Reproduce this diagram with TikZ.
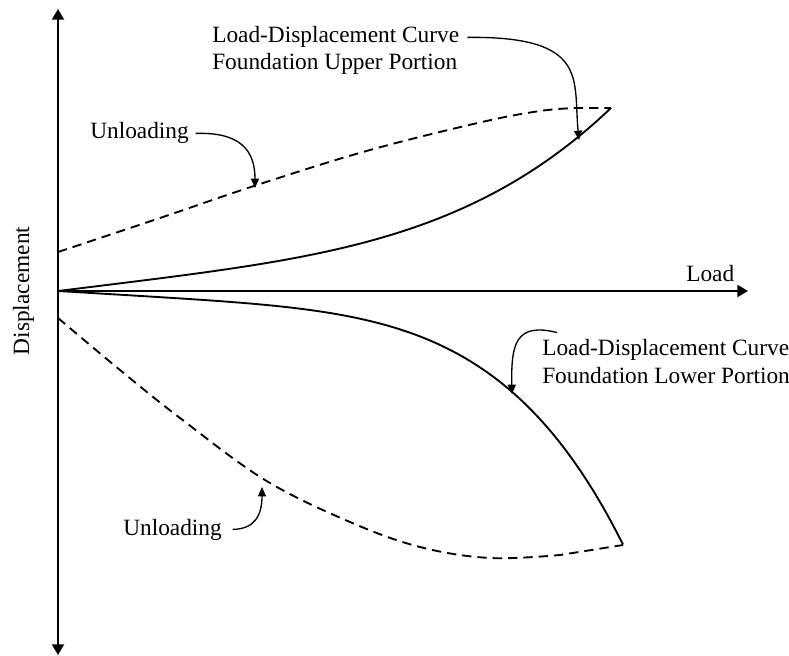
\documentclass[tikz,border=0pt]{standalone}
\usepackage{fontspec}
\setmainfont{Liberation Serif}
\usetikzlibrary{arrows.meta}
\begin{document}
\begin{tikzpicture}[x=0.75pt,y=-0.75pt,
  axis/.style={line width=1.5pt},
  curve/.style={line width=1.4pt,line join=round},
  unload/.style={line width=1.4pt,dash pattern=on 7pt off 4.5pt},
  ann/.style={line width=1pt,-{Triangle[length=7pt,width=6pt]}},
  lbl/.style={inner sep=0pt,font=\fontsize{17.5}{20}\selectfont}
]
\useasboundingbox (0,0) rectangle (789,656);
% axes
\coordinate (O) at (58,291);
\coordinate (ytop) at (58,9);
\coordinate (ybot) at (58,655);
\coordinate (xend) at (748,291);
\draw[axis,{Triangle[length=8pt,width=9pt]}-{Triangle[length=8pt,width=9pt]}] (ybot) -- (ytop);
\draw[axis,-{Triangle[length=8pt,width=9pt]}] (O) -- (xend);
\node[lbl,anchor=base west] (load) at (686,281) {Load};
\node[lbl,anchor=base,rotate=90] (disp) at (29,291) {Displacement};
% upper curves
\coordinate (UP) at (611,108);
\draw[curve] plot[domain=0:553,samples=80] ({58+\x},{291-0.123*\x-0.123*(\x/100)^4});
\draw[unload] plot[smooth,tension=0.6] coordinates {(58,252) (160,218) (260,184) (370,150) (482,122) (540,111) (575,108)} -- (UP);
% lower curves
\coordinate (LP) at (623,545);
\draw[curve] plot[domain=0:565,samples=80] ({58+\x},{291+0.06*\x+0.03814*(\x/100)^5});
\draw[unload] plot[smooth,tension=0.6] coordinates {(58,318) (120,370) (180,418) (265,480) (350,522) (420,547) (490,558) (560,555)} -- (LP);
% labels
\node[lbl,anchor=base west] (ul1) at (212,43) {Load-Displacement Curve};
\node[lbl,anchor=base west] (ul2) at (212,70) {Foundation Upper Portion};
\node[lbl,anchor=base west] (uu) at (90,139) {Unloading};
\node[lbl,anchor=base west] (ll1) at (542,355) {Load-Displacement Curve};
\node[lbl,anchor=base west] (ll2) at (542,383) {Foundation Lower Portion};
\node[lbl,anchor=base west] (lu) at (123,535) {Unloading};
% annotation arrows
\coordinate (t1) at (579,140);
\coordinate (t2) at (255,188);
\coordinate (t3) at (512,394);
\coordinate (t4) at (262,487);
\draw[ann] ([xshift=6]ul1.east) .. controls (590,36) and (573,80) .. (t1);
\draw[ann] ([xshift=5]uu.east) .. controls (240,132) and (255,150) .. (t2);
\draw[ann] ([shift={(15,-6)}]ll1.north west) .. controls (515,322) and (511,345) .. (t3);
\draw[ann] ([xshift=8]lu.east) .. controls (255,529) and (262,515) .. (t4);
\end{tikzpicture}
\end{document}
